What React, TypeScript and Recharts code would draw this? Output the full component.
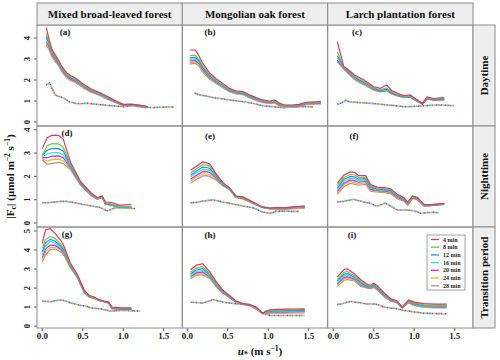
import React from 'react';
import { LineChart, Line, XAxis, YAxis } from 'recharts';

const SERIF = "'Liberation Serif', 'Times New Roman', serif";

const SERIES_NAMES = ['4 min', '8 min', '12 min', '16 min', '20 min', '24 min', '28 min'];
const SERIES_COLORS = ['#e8325a', '#5fcf4f', '#2f8be2', '#2fe3ea', '#e026d6', '#f3b61e', '#9b9b9b'];
const FOREST_LABELS = ['Mixed broad-leaved forest', 'Mongolian oak forest', 'Larch plantation forest'];
const PERIOD_LABELS = ['Daytime', 'Nighttime', 'Transition period'];
const PANEL_TAGS = ['(a)', '(b)', '(c)', '(d)', '(e)', '(f)', '(g)', '(h)', '(i)'];
const X_TICKS = [0, 0.5, 1, 1.5];
const Y_TICKS_ROW = [[0, 1, 2, 3, 4], [0, 1, 2, 3, 4], [0, 1, 2, 3, 4, 5]];
const Y_DOMAIN_ROW = [[-0.19, 4.62], [-0.17, 4.16], [-0.1, 5.21]];
const X_DOMAIN = [-0.065, 1.729];

// (a) Mixed broad-leaved forest, daytime
const A_X = [0.05, 0.08, 0.12, 0.16, 0.2, 0.25, 0.3, 0.35, 0.4, 0.45, 0.5, 0.6, 0.7, 0.8, 0.9, 1.0, 1.1, 1.2, 1.3];
const A_FC = [
  [4.49, 4.0, 3.45, 3.2, 2.95, 2.6, 2.35, 2.2, 2.12, 1.98, 1.82, 1.58, 1.42, 1.22, 1.02, 0.84, 0.85, 0.8, 0.74],
  [4.2, 3.85, 3.35, 3.12, 2.88, 2.55, 2.3, 2.15, 2.08, 1.94, 1.78, 1.55, 1.39, 1.19, 1.0, 0.83, 0.84, 0.79, 0.73],
  [4.05, 3.78, 3.3, 3.07, 2.84, 2.51, 2.26, 2.11, 2.04, 1.9, 1.75, 1.52, 1.36, 1.17, 0.98, 0.82, 0.83, 0.78, 0.72],
  [3.98, 3.72, 3.26, 3.03, 2.8, 2.47, 2.22, 2.08, 2.01, 1.87, 1.72, 1.5, 1.34, 1.15, 0.97, 0.81, 0.82, 0.77, 0.72],
  [3.82, 3.62, 3.2, 2.98, 2.76, 2.43, 2.18, 2.04, 1.97, 1.84, 1.69, 1.47, 1.32, 1.13, 0.95, 0.8, 0.81, 0.76, 0.71],
  [3.72, 3.55, 3.15, 2.93, 2.72, 2.39, 2.14, 2.0, 1.93, 1.8, 1.66, 1.44, 1.3, 1.11, 0.94, 0.79, 0.8, 0.75, 0.71],
  [3.65, 3.48, 3.1, 2.88, 2.68, 2.35, 2.1, 1.97, 1.9, 1.77, 1.63, 1.42, 1.28, 1.09, 0.93, 0.78, 0.79, 0.74, 0.7],
];
const A_DOT_X = [0.05, 0.09, 0.12, 0.16, 0.2, 0.23, 0.27, 0.33, 0.43, 0.56, 0.68, 0.84, 1.01, 1.11, 1.26, 1.38, 1.5, 1.62];
const A_DOT = [1.76, 1.86, 1.6, 1.29, 1.22, 1.2, 1.13, 0.97, 0.87, 0.89, 0.84, 0.78, 0.73, 0.78, 0.69, 0.69, 0.71, 0.72];

// (b) Mongolian oak forest, daytime
const B_X = [0.03, 0.1, 0.15, 0.19, 0.28, 0.36, 0.44, 0.52, 0.6, 0.69, 0.77, 0.85, 0.93, 1.02, 1.08, 1.14, 1.2, 1.3, 1.38, 1.47, 1.65];
const B_FC = [
  [3.43, 3.43, 3.11, 2.8, 2.32, 2.05, 1.84, 1.6, 1.49, 1.45, 1.29, 1.16, 1.05, 1.0, 1.05, 0.89, 0.81, 0.81, 0.84, 0.94, 0.97],
  [3.15, 3.18, 2.95, 2.68, 2.24, 1.99, 1.79, 1.56, 1.45, 1.41, 1.26, 1.13, 1.02, 0.97, 1.01, 0.86, 0.79, 0.79, 0.82, 0.92, 0.95],
  [3.05, 3.08, 2.88, 2.6, 2.18, 1.95, 1.75, 1.53, 1.42, 1.38, 1.23, 1.1, 1.0, 0.95, 0.98, 0.84, 0.77, 0.77, 0.8, 0.9, 0.93],
  [2.98, 3.0, 2.82, 2.55, 2.14, 1.92, 1.72, 1.51, 1.4, 1.36, 1.21, 1.08, 0.98, 0.94, 0.96, 0.82, 0.76, 0.76, 0.79, 0.89, 0.92],
  [2.9, 2.93, 2.76, 2.49, 2.1, 1.88, 1.69, 1.48, 1.38, 1.34, 1.19, 1.06, 0.96, 0.92, 0.94, 0.8, 0.74, 0.74, 0.77, 0.87, 0.9],
  [2.82, 2.86, 2.7, 2.44, 2.06, 1.85, 1.66, 1.46, 1.36, 1.32, 1.17, 1.04, 0.95, 0.9, 0.92, 0.78, 0.72, 0.72, 0.75, 0.85, 0.88],
  [2.76, 2.8, 2.64, 2.38, 2.02, 1.82, 1.63, 1.44, 1.34, 1.3, 1.15, 1.02, 0.93, 0.88, 0.9, 0.76, 0.7, 0.7, 0.73, 0.83, 0.86],
];
const B_DOT_X = [0.09, 0.15, 0.23, 0.32, 0.44, 0.56, 0.69, 0.81, 0.93, 1.06, 1.18, 1.3, 1.43, 1.55];
const B_DOT = [1.37, 1.29, 1.24, 1.16, 1.1, 1.03, 0.97, 0.89, 0.78, 0.73, 0.68, 0.72, 0.73, 0.72];

// (c) Larch plantation forest, daytime
const C_X = [0.05, 0.13, 0.2, 0.26, 0.32, 0.38, 0.44, 0.5, 0.58, 0.66, 0.72, 0.8, 0.87, 0.95, 1.02, 1.1, 1.16, 1.24, 1.37];
const C_FC = [
  [3.83, 2.64, 2.45, 2.24, 2.12, 2.0, 1.85, 1.68, 1.6, 1.76, 1.5, 1.35, 1.26, 1.29, 1.1, 0.89, 1.2, 1.12, 1.16],
  [3.33, 2.62, 2.4, 2.18, 2.05, 1.93, 1.79, 1.63, 1.53, 1.62, 1.44, 1.3, 1.22, 1.24, 1.07, 0.88, 1.16, 1.09, 1.11],
  [3.15, 2.6, 2.36, 2.14, 2.0, 1.88, 1.75, 1.59, 1.5, 1.56, 1.41, 1.28, 1.2, 1.22, 1.05, 0.87, 1.14, 1.07, 1.09],
  [3.05, 2.58, 2.33, 2.11, 1.97, 1.85, 1.72, 1.57, 1.48, 1.53, 1.39, 1.26, 1.19, 1.21, 1.04, 0.87, 1.13, 1.06, 1.08],
  [2.95, 2.56, 2.3, 2.08, 1.94, 1.82, 1.69, 1.55, 1.46, 1.51, 1.37, 1.25, 1.18, 1.2, 1.03, 0.86, 1.12, 1.05, 1.07],
  [2.9, 2.54, 2.27, 2.05, 1.91, 1.79, 1.67, 1.53, 1.45, 1.5, 1.35, 1.24, 1.17, 1.19, 1.02, 0.86, 1.11, 1.04, 1.06],
  [2.86, 2.52, 2.25, 2.02, 1.88, 1.76, 1.65, 1.51, 1.44, 1.49, 1.33, 1.23, 1.16, 1.18, 1.01, 0.85, 1.1, 1.03, 1.05],
];
const C_DOT_X = [0.05, 0.1, 0.15, 0.2, 0.26, 0.35, 0.46, 0.55, 0.67, 0.78, 0.87, 0.98, 1.08, 1.18, 1.28, 1.38, 1.49];
const C_DOT = [0.84, 0.9, 1.03, 0.97, 0.94, 0.92, 0.89, 0.86, 0.81, 0.77, 0.73, 0.74, 0.76, 0.79, 0.81, 0.8, 0.78];

// (d) Mixed broad-leaved forest, nighttime
const D_X = [0.0, 0.06, 0.12, 0.2, 0.26, 0.35, 0.47, 0.6, 0.68, 0.74, 0.78, 0.87, 0.95, 1.02, 1.1];
const D_FC = [
  [3.19, 3.66, 3.76, 3.76, 3.59, 2.59, 1.8, 1.3, 1.09, 1.16, 0.9, 0.87, 0.76, 0.78, 0.79],
  [2.92, 3.3, 3.4, 3.39, 3.25, 2.5, 1.75, 1.27, 1.07, 1.14, 0.86, 0.8, 0.7, 0.7, 0.7],
  [2.9, 3.12, 3.2, 3.19, 3.08, 2.45, 1.72, 1.25, 1.06, 1.13, 0.85, 0.78, 0.69, 0.69, 0.69],
  [2.85, 2.95, 3.02, 3.02, 2.93, 2.4, 1.7, 1.23, 1.05, 1.12, 0.84, 0.77, 0.68, 0.68, 0.68],
  [2.8, 2.8, 2.87, 2.88, 2.8, 2.36, 1.68, 1.21, 1.04, 1.11, 0.83, 0.76, 0.67, 0.67, 0.67],
  [2.75, 2.66, 2.72, 2.74, 2.67, 2.32, 1.66, 1.2, 1.03, 1.1, 0.82, 0.75, 0.66, 0.66, 0.66],
  [2.7, 2.52, 2.56, 2.6, 2.55, 2.28, 1.64, 1.18, 1.02, 1.09, 0.81, 0.74, 0.65, 0.65, 0.65],
];
const D_DOT_X = [0.0, 0.06, 0.12, 0.18, 0.23, 0.3, 0.35, 0.42, 0.5, 0.56, 0.64, 0.72, 0.8, 0.86, 0.91, 1.01, 1.08, 1.15];
const D_DOT = [0.87, 0.87, 0.89, 0.91, 0.93, 0.93, 0.9, 0.86, 0.8, 0.76, 0.72, 0.66, 0.52, 0.6, 0.66, 0.66, 0.63, 0.62];

// (e) Mongolian oak forest, nighttime
const E_X = [0.04, 0.11, 0.19, 0.24, 0.28, 0.36, 0.44, 0.52, 0.6, 0.69, 0.81, 0.93, 1.02, 1.12, 1.22, 1.33, 1.45];
const E_FC = [
  [2.27, 2.42, 2.62, 2.58, 2.52, 2.09, 1.73, 1.52, 1.16, 1.12, 0.9, 0.69, 0.64, 0.66, 0.66, 0.7, 0.73],
  [2.15, 2.32, 2.5, 2.48, 2.43, 2.04, 1.7, 1.5, 1.15, 1.1, 0.89, 0.68, 0.63, 0.65, 0.65, 0.69, 0.72],
  [2.05, 2.22, 2.4, 2.38, 2.34, 2.0, 1.67, 1.48, 1.14, 1.09, 0.88, 0.68, 0.63, 0.64, 0.64, 0.68, 0.71],
  [1.97, 2.13, 2.3, 2.29, 2.25, 1.96, 1.65, 1.47, 1.13, 1.07, 0.87, 0.67, 0.62, 0.63, 0.63, 0.67, 0.7],
  [1.88, 2.04, 2.2, 2.2, 2.16, 1.92, 1.63, 1.46, 1.12, 1.06, 0.86, 0.67, 0.62, 0.62, 0.62, 0.66, 0.68],
  [1.79, 1.95, 2.11, 2.11, 2.07, 1.87, 1.61, 1.45, 1.1, 1.04, 0.85, 0.66, 0.61, 0.61, 0.6, 0.64, 0.66],
  [1.7, 1.87, 2.02, 2.03, 1.99, 1.83, 1.59, 1.44, 1.09, 1.02, 0.84, 0.66, 0.61, 0.6, 0.59, 0.62, 0.64],
];
const E_DOT_X = [0.04, 0.11, 0.19, 0.26, 0.32, 0.38, 0.44, 0.52, 0.6, 0.7, 0.81, 0.93, 1.02, 1.1, 1.22, 1.3, 1.38];
const E_DOT = [0.87, 0.88, 0.94, 0.97, 0.99, 0.95, 0.9, 0.85, 0.79, 0.72, 0.66, 0.47, 0.41, 0.51, 0.51, 0.5, 0.5];

// (f) Larch plantation forest, nighttime
const F_X = [0.05, 0.13, 0.21, 0.27, 0.31, 0.4, 0.46, 0.54, 0.63, 0.71, 0.79, 0.87, 0.92, 0.98, 1.04, 1.12, 1.2, 1.37];
const F_FC = [
  [1.7, 2.05, 2.19, 2.16, 2.03, 2.03, 1.65, 1.54, 1.52, 1.47, 1.23, 1.09, 0.9, 1.16, 1.09, 0.8, 0.79, 0.84],
  [1.6, 1.95, 2.08, 2.06, 1.95, 1.96, 1.6, 1.5, 1.47, 1.42, 1.19, 1.05, 0.87, 1.13, 1.07, 0.78, 0.78, 0.83],
  [1.5, 1.87, 2.0, 1.97, 1.88, 1.9, 1.55, 1.46, 1.43, 1.39, 1.16, 1.02, 0.85, 1.11, 1.05, 0.77, 0.77, 0.82],
  [1.43, 1.78, 1.92, 1.89, 1.81, 1.84, 1.5, 1.43, 1.4, 1.36, 1.13, 1.0, 0.83, 1.1, 1.04, 0.76, 0.76, 0.82],
  [1.36, 1.7, 1.85, 1.81, 1.75, 1.78, 1.45, 1.4, 1.37, 1.33, 1.1, 0.98, 0.81, 1.08, 1.02, 0.75, 0.75, 0.81],
  [1.29, 1.63, 1.77, 1.73, 1.68, 1.72, 1.41, 1.36, 1.33, 1.29, 1.07, 0.96, 0.78, 1.06, 1.0, 0.73, 0.74, 0.8],
  [1.23, 1.56, 1.7, 1.66, 1.62, 1.66, 1.37, 1.33, 1.3, 1.26, 1.04, 0.94, 0.76, 1.05, 0.99, 0.72, 0.74, 0.8],
];
const F_DOT_X = [0.05, 0.13, 0.21, 0.25, 0.29, 0.38, 0.46, 0.54, 0.6, 0.64, 0.71, 0.79, 0.87, 0.95, 1.02, 1.08, 1.15, 1.22, 1.3];
const F_DOT = [0.9, 0.93, 0.99, 1.02, 0.98, 0.9, 0.84, 0.72, 0.8, 0.86, 0.72, 0.56, 0.56, 0.55, 0.5, 0.42, 0.44, 0.46, 0.44];

// (g) Mixed broad-leaved forest, transition period
const G_X = [0.0, 0.04, 0.1, 0.16, 0.23, 0.27, 0.35, 0.43, 0.52, 0.58, 0.64, 0.7, 0.76, 0.82, 0.86, 0.97, 1.1];
const G_FC = [
  [4.35, 5.07, 5.12, 4.86, 4.5, 4.19, 3.28, 2.75, 1.88, 1.61, 1.53, 1.39, 1.32, 1.26, 1.0, 0.96, 0.96],
  [4.1, 4.55, 4.72, 4.6, 4.3, 4.05, 3.22, 2.7, 1.85, 1.59, 1.51, 1.38, 1.31, 1.25, 0.97, 0.93, 0.93],
  [3.9, 4.38, 4.56, 4.46, 4.2, 3.97, 3.18, 2.67, 1.83, 1.57, 1.5, 1.37, 1.3, 1.24, 0.95, 0.91, 0.91],
  [3.75, 4.22, 4.45, 4.36, 4.12, 3.9, 3.15, 2.64, 1.81, 1.56, 1.49, 1.36, 1.3, 1.23, 0.94, 0.9, 0.9],
  [3.6, 4.05, 4.26, 4.24, 4.04, 3.83, 3.12, 2.61, 1.79, 1.55, 1.48, 1.35, 1.29, 1.22, 0.93, 0.89, 0.89],
  [3.48, 3.9, 4.13, 4.14, 3.97, 3.77, 3.09, 2.58, 1.77, 1.53, 1.46, 1.34, 1.28, 1.21, 0.91, 0.87, 0.87],
  [3.37, 3.75, 4.02, 4.05, 3.9, 3.7, 3.05, 2.55, 1.75, 1.52, 1.45, 1.33, 1.28, 1.2, 0.9, 0.86, 0.86],
];
const G_DOT_X = [0.0, 0.05, 0.1, 0.15, 0.2, 0.25, 0.3, 0.35, 0.42, 0.47, 0.54, 0.6, 0.66, 0.72, 0.78, 0.84, 0.9, 0.97, 1.05, 1.13, 1.21];
const G_DOT = [1.32, 1.3, 1.28, 1.33, 1.37, 1.36, 1.3, 1.22, 1.15, 1.09, 1.05, 0.96, 0.93, 0.91, 0.85, 0.79, 0.8, 0.82, 0.82, 0.8, 0.78];

// (h) Mongolian oak forest, transition period
const H_X = [0.04, 0.11, 0.19, 0.28, 0.36, 0.44, 0.52, 0.6, 0.69, 0.77, 0.85, 0.93, 0.98, 1.02, 1.1, 1.22, 1.32, 1.45];
const H_FC = [
  [2.96, 3.19, 3.28, 2.84, 2.32, 1.88, 1.61, 1.32, 1.18, 1.14, 1.0, 0.68, 0.8, 0.86, 0.88, 0.89, 0.9, 0.91],
  [2.85, 3.05, 3.13, 2.74, 2.25, 1.84, 1.58, 1.3, 1.17, 1.13, 0.98, 0.67, 0.77, 0.82, 0.84, 0.85, 0.86, 0.87],
  [2.75, 2.95, 3.02, 2.68, 2.2, 1.81, 1.56, 1.29, 1.16, 1.12, 0.96, 0.67, 0.74, 0.79, 0.8, 0.81, 0.82, 0.83],
  [2.68, 2.87, 2.93, 2.62, 2.16, 1.79, 1.54, 1.28, 1.16, 1.11, 0.95, 0.66, 0.72, 0.76, 0.77, 0.78, 0.79, 0.8],
  [2.61, 2.8, 2.85, 2.58, 2.12, 1.77, 1.53, 1.27, 1.15, 1.1, 0.94, 0.66, 0.7, 0.74, 0.75, 0.75, 0.76, 0.77],
  [2.55, 2.73, 2.77, 2.53, 2.08, 1.75, 1.51, 1.27, 1.15, 1.1, 0.93, 0.65, 0.68, 0.71, 0.72, 0.72, 0.73, 0.74],
  [2.49, 2.67, 2.7, 2.49, 2.05, 1.74, 1.49, 1.26, 1.14, 1.09, 0.91, 0.65, 0.66, 0.68, 0.68, 0.68, 0.69, 0.7],
];
const H_DOT_X = [0.04, 0.11, 0.19, 0.26, 0.32, 0.38, 0.44, 0.52, 0.6, 0.69, 0.77, 0.85, 0.93, 1.02, 1.1, 1.22, 1.32, 1.45];
const H_DOT = [1.26, 1.24, 1.21, 1.3, 1.39, 1.33, 1.26, 1.21, 1.18, 1.14, 1.09, 0.9, 0.68, 0.56, 0.56, 0.56, 0.56, 0.56];

// (i) Larch plantation forest, transition period
const I_X = [0.05, 0.13, 0.17, 0.26, 0.34, 0.42, 0.46, 0.5, 0.54, 0.63, 0.71, 0.79, 0.85, 0.93, 1.0, 1.12, 1.25, 1.4];
const I_FC = [
  [2.58, 2.96, 3.02, 2.75, 2.44, 2.19, 2.14, 2.26, 2.14, 1.74, 1.44, 1.32, 1.0, 1.38, 1.26, 1.18, 1.16, 1.16],
  [2.45, 2.82, 2.88, 2.65, 2.35, 2.13, 2.09, 2.2, 2.08, 1.69, 1.41, 1.29, 0.99, 1.34, 1.21, 1.12, 1.1, 1.1],
  [2.36, 2.72, 2.77, 2.58, 2.28, 2.09, 2.06, 2.15, 2.04, 1.65, 1.39, 1.27, 0.98, 1.31, 1.17, 1.08, 1.06, 1.06],
  [2.28, 2.63, 2.68, 2.52, 2.22, 2.06, 2.03, 2.11, 2.0, 1.62, 1.37, 1.25, 0.97, 1.28, 1.14, 1.05, 1.03, 1.03],
  [2.22, 2.55, 2.6, 2.47, 2.17, 2.04, 2.01, 2.08, 1.97, 1.59, 1.35, 1.24, 0.97, 1.26, 1.12, 1.03, 1.01, 1.01],
  [2.15, 2.47, 2.52, 2.42, 2.13, 2.02, 1.99, 2.05, 1.94, 1.56, 1.33, 1.22, 0.96, 1.24, 1.09, 1.0, 0.98, 0.98],
  [2.09, 2.4, 2.45, 2.38, 2.09, 2.0, 1.97, 2.03, 1.91, 1.53, 1.32, 1.21, 0.96, 1.22, 1.07, 0.98, 0.96, 0.96],
];
const I_DOT_X = [0.05, 0.1, 0.17, 0.22, 0.26, 0.34, 0.42, 0.5, 0.54, 0.63, 0.71, 0.79, 0.87, 0.95, 1.0, 1.12, 1.25, 1.4];
const I_DOT = [1.14, 1.16, 1.25, 1.3, 1.26, 1.22, 1.16, 1.16, 1.14, 1.0, 0.95, 0.91, 0.82, 0.78, 0.74, 0.68, 0.66, 0.65];

const PANELS = [
  { x: A_X, fc: A_FC, dx: A_DOT_X, dy: A_DOT },
  { x: B_X, fc: B_FC, dx: B_DOT_X, dy: B_DOT },
  { x: C_X, fc: C_FC, dx: C_DOT_X, dy: C_DOT },
  { x: D_X, fc: D_FC, dx: D_DOT_X, dy: D_DOT },
  { x: E_X, fc: E_FC, dx: E_DOT_X, dy: E_DOT },
  { x: F_X, fc: F_FC, dx: F_DOT_X, dy: F_DOT },
  { x: G_X, fc: G_FC, dx: G_DOT_X, dy: G_DOT },
  { x: H_X, fc: H_FC, dx: H_DOT_X, dy: H_DOT },
  { x: I_X, fc: I_FC, dx: I_DOT_X, dy: I_DOT },
];

// layout
const COL_X = [37, 182.3, 327.7];
const ROW_Y = [25, 126, 227];
const PANEL_W = 145.3;
const PANEL_H = 101;
const BORDER = '#8c8c8c';
const TAG_POS = [
  [65, 35], [210, 35], [357, 35],
  [67, 136], [210, 139], [354, 139],
  [67, 237], [210, 238], [352, 238],
];

const toPoints = (xs, ys) => xs.map((x, i) => ({ x, y: ys[i] }));

function YTick(props) {
  const { x, y, payload } = props;
  const tx = x - 2;
  return (
    <text x={tx} y={y} transform={`rotate(-90 ${tx} ${y})`} textAnchor="middle"
      fontFamily={SERIF} fontWeight="bold" fontSize={8.5} fill="#222">
      {payload.value}
    </text>
  );
}

function Panel({ index }) {
  const row = Math.floor(index / 3);
  const col = index % 3;
  const p = PANELS[index];
  const axL = col === 0 ? 37 : 5;
  const axB = row === 2 ? 22 : 5;
  const w = PANEL_W + axL;
  const h = PANEL_H + axB;
  const dotData = toPoints(p.dx, p.dy);
  return (
    <div style={{ position: 'absolute', left: COL_X[col] - axL, top: ROW_Y[row], width: w, height: h }}>
      <LineChart width={w} height={h} margin={{ top: 0, right: 0, bottom: 0, left: 0 }}>
        <XAxis type="number" dataKey="x" domain={X_DOMAIN} ticks={X_TICKS} allowDataOverflow
          height={axB} axisLine={false} tickSize={3} interval={0}
          tickLine={{ stroke: '#555' }}
          tickFormatter={(v) => Number(v).toFixed(1)}
          tick={row === 2 ? { fontFamily: SERIF, fontWeight: 'bold', fontSize: 9, fill: '#222' } : false} />
        <YAxis type="number" dataKey="y" domain={Y_DOMAIN_ROW[row]} ticks={Y_TICKS_ROW[row]} allowDataOverflow
          width={axL} axisLine={false} tickSize={3} interval={0}
          tickLine={{ stroke: '#555' }}
          tick={col === 0 ? <YTick /> : false} />
        {SERIES_COLORS.map((c, i) => (
          <Line key={'d' + i} data={dotData} dataKey="y" type="linear" stroke={c}
            strokeWidth={1.6} strokeDasharray="1.3 7.8" strokeDashoffset={-i * 1.3}
            dot={false} isAnimationActive={false} legendType="none" />
        ))}
        {SERIES_COLORS.map((c, i) => i).reverse().map((i) => (
          <Line key={'s' + i} data={toPoints(p.x, p.fc[i])} dataKey="y" name={SERIES_NAMES[i]}
            type="linear" stroke={SERIES_COLORS[i]} strokeWidth={1.2}
            dot={false} isAnimationActive={false} />
        ))}
      </LineChart>
    </div>
  );
}

function Overlay() {
  const right = COL_X[2] + PANEL_W;
  const bottom = ROW_Y[2] + PANEL_H;
  return (
    <svg width={500} height={360} style={{ position: 'absolute', left: 0, top: 0, pointerEvents: 'none' }}
      fontFamily={SERIF} fontWeight="bold">
      {/* panel borders */}
      {[0, 1, 2].map((r) => [0, 1, 2].map((c) => (
        <rect key={`b${r}${c}`} x={COL_X[c]} y={ROW_Y[r]} width={PANEL_W} height={PANEL_H}
          fill="none" stroke={BORDER} strokeWidth={1} />
      )))}
      {/* top strips */}
      {FOREST_LABELS.map((lab, c) => (
        <g key={'ts' + c}>
          <rect x={COL_X[c]} y={3} width={PANEL_W} height={22} fill="#eeeeee" stroke={BORDER} strokeWidth={1} />
          <text x={COL_X[c] + PANEL_W / 2} y={18} textAnchor="middle" fontSize={11} fill="#111">{lab}</text>
        </g>
      ))}
      {/* right strips */}
      {PERIOD_LABELS.map((lab, r) => {
        const cx = right + 11;
        const cy = ROW_Y[r] + PANEL_H / 2;
        return (
          <g key={'rs' + r}>
            <rect x={right} y={ROW_Y[r]} width={22} height={PANEL_H} fill="#eeeeee" stroke={BORDER} strokeWidth={1} />
            <text x={cx} y={cy} transform={`rotate(-90 ${cx} ${cy})`} textAnchor="middle" dy="0.35em"
              fontSize={11} fill="#111">{lab}</text>
          </g>
        );
      })}
      {/* panel tags */}
      {PANEL_TAGS.map((t, i) => (
        <text key={'tag' + i} x={TAG_POS[i][0]} y={TAG_POS[i][1]} textAnchor="middle" fontSize={9} fill="#111">{t}</text>
      ))}
      {/* y title */}
      <text x={14} y={(ROW_Y[0] + bottom) / 2} transform={`rotate(-90 14 ${(ROW_Y[0] + bottom) / 2})`}
        textAnchor="middle" fontSize={11} fill="#111">
        |F<tspan fontSize={8} dy={2}>c</tspan><tspan dy={-2}>| (μmol m</tspan>
        <tspan fontSize={7.5} dy={-4}>−2</tspan><tspan dy={4}> s</tspan>
        <tspan fontSize={7.5} dy={-4}>−1</tspan><tspan dy={4}>)</tspan>
      </text>
      {/* x title */}
      <text x={(COL_X[0] + right) / 2 + 5} y={355} textAnchor="middle" fontSize={11} fill="#111">
        <tspan fontStyle="italic">u</tspan><tspan fontSize={8} dy={2}>*</tspan>
        <tspan dy={-2}> (m s</tspan><tspan fontSize={7.5} dy={-4}>−1</tspan><tspan dy={4}>)</tspan>
      </text>
      {/* legend in panel (i) */}
      <g>
        <rect x={427} y={235} width={38} height={55} fill="#ffffff" stroke={BORDER} strokeWidth={0.8} />
        {SERIES_NAMES.map((n, i) => (
          <g key={'lg' + i}>
            <line x1={431} x2={439} y1={239.5 + i * 7.7} y2={239.5 + i * 7.7} stroke={SERIES_COLORS[i]} strokeWidth={1.3} />
            <text x={443} y={241.5 + i * 7.7} fontSize={6} fill="#222">{n}</text>
          </g>
        ))}
      </g>
    </svg>
  );
}

export default function App() {
  return (
    <div style={{ position: 'absolute', left: 0, top: 0, width: 500, height: 360, background: '#ffffff', overflow: 'hidden' }}>
      {PANELS.map((_, i) => <Panel key={i} index={i} />)}
      <Overlay />
    </div>
  );
}
